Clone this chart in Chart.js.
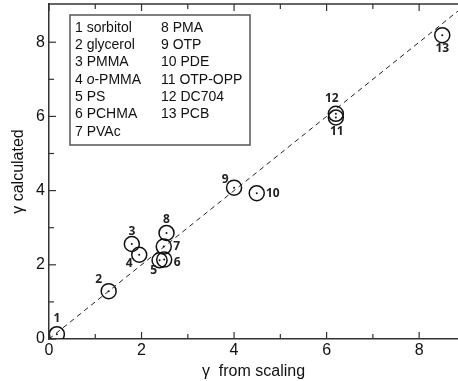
<!DOCTYPE html>
<html>
<head>
<meta charset="utf-8">
<script src="https://cdn.jsdelivr.net/npm/chart.js@4.4.1/dist/chart.umd.min.js"></script>
<style>
  html, body { margin: 0; padding: 0; background: #fff; }
  #wrap { width: 458px; height: 381px; }
</style>
</head>
<body>
<div id="wrap"><canvas id="chart"></canvas></div>
<script>
// point numbers and values
const ids = ['1', '2', '3', '4', '5', '6', '7', '8', '9', '10', '11', '12', '13'];
const gammaScaling = [0.17, 1.29, 1.79, 1.95, 2.39, 2.49, 2.48, 2.54, 4.0, 4.49, 6.2, 6.2, 8.5];
const gammaCalc = [0.13, 1.29, 2.56, 2.27, 2.12, 2.14, 2.49, 2.86, 4.08, 3.93, 5.97, 6.07, 8.19];
const names = ['sorbitol', 'glycerol', 'PMMA', 'o-PMMA', 'PS', 'PCHMA', 'PVAc',
  'PMA', 'OTP', 'PDE', 'OTP-OPP', 'DC704', 'PCB'];
const xTicks = [0, 2, 4, 6, 8];
const yTicks = [0, 2, 4, 6, 8];

// where each number label sits relative to its circle (px)
const labelOffsets = [
  [0, -16], [-10, -12], [0, -12], [-10, 9], [-6, 10], [13, 3], [13, 0],
  [0, -13], [-9, -8], [16, 0], [1, 14], [-4, -15], [0, 13]
];

const points = gammaScaling.map((x, i) => ({ x, y: gammaCalc[i] }));

const frame = {
  id: 'frame',
  afterDraw(chart) {
    const { ctx, chartArea: a, scales: { x, y } } = chart;
    ctx.save();
    ctx.strokeStyle = '#333';
    ctx.lineWidth = 1.5;
    // top border
    ctx.beginPath();
    ctx.moveTo(a.left, a.top);
    ctx.lineTo(a.right, a.top);
    ctx.stroke();
    // inward ticks
    ctx.lineWidth = 1.2;
    for (let v = 0; v <= 8; v++) {
      const len = v % 2 === 0 ? 7 : 5;
      const px = x.getPixelForValue(v);
      ctx.beginPath();
      ctx.moveTo(px, a.bottom); ctx.lineTo(px, a.bottom - len);
      ctx.moveTo(px, a.top); ctx.lineTo(px, a.top + len);
      ctx.stroke();
      const py = y.getPixelForValue(v);
      ctx.beginPath();
      ctx.moveTo(a.left, py); ctx.lineTo(a.left + len, py);
      ctx.stroke();
    }
    // number labels
    ctx.fillStyle = '#222';
    ctx.font = 'bold 12px "Open Sans", sans-serif';
    ctx.textAlign = 'center';
    ctx.textBaseline = 'middle';
    points.forEach((p, i) => {
      const px = x.getPixelForValue(p.x) + labelOffsets[i][0];
      const py = y.getPixelForValue(p.y) + labelOffsets[i][1];
      ctx.fillText(ids[i], px, py);
    });
    // legend box
    const bx = a.left + 21, by = a.top + 11;
    ctx.strokeStyle = '#555';
    ctx.lineWidth = 1.5;
    ctx.strokeRect(bx, by, 180, 130);
    ctx.fillStyle = '#111';
    ctx.font = '14px "Liberation Sans", Arial, sans-serif';
    ctx.textAlign = 'left';
    names.forEach((n, i) => {
      const col = i < 7 ? 0 : 1;
      const row = i < 7 ? i : i - 7;
      const tx = bx + 5 + col * 86;
      const ty = by + 13 + row * 17.3;
      if (n.startsWith('o-')) {
        const pre = ids[i] + ' ';
        ctx.fillText(pre, tx, ty);
        let w = ctx.measureText(pre).width;
        ctx.font = 'italic 14px "Liberation Sans", Arial, sans-serif';
        ctx.fillText('o', tx + w, ty);
        w += ctx.measureText('o').width;
        ctx.font = '14px "Liberation Sans", Arial, sans-serif';
        ctx.fillText(n.slice(1), tx + w, ty);
      } else {
        ctx.fillText(ids[i] + ' ' + n, tx, ty);
      }
    });
    ctx.restore();
  }
};

new Chart(document.getElementById('chart'), {
  type: 'scatter',
  data: {
    datasets: [
      {
        type: 'line',
        data: [{ x: 0, y: 0 }, { x: 9.2, y: 9.2 }],
        borderColor: '#222',
        borderWidth: 1,
        borderDash: [5, 4],
        pointRadius: 0,
        fill: false
      },
      {
        data: points,
        pointStyle: 'circle',
        pointRadius: 7.5,
        borderColor: '#111',
        borderWidth: 1.5,
        backgroundColor: 'rgba(255,255,255,0)'
      },
      {
        data: points,
        pointStyle: 'circle',
        pointRadius: 1,
        borderWidth: 0,
        backgroundColor: '#111'
      }
    ]
  },
  options: {
    responsive: true,
    maintainAspectRatio: false,
    animation: false,
    layout: { autoPadding: false, padding: { top: 4, right: 0, left: 0, bottom: 0 } },
    plugins: { legend: { display: false }, tooltip: { enabled: false } },
    scales: {
      x: {
        type: 'linear',
        min: 0,
        max: 8.84,
        afterFit(s) { s.height = 42; s.paddingLeft = 0; s.paddingRight = 0; },
        afterBuildTicks(s) { s.ticks = xTicks.map(v => ({ value: v })); },
        grid: { display: false, drawTicks: false },
        border: { display: true, color: '#333', width: 1.5 },
        ticks: {
          color: '#111',
          padding: 2,
          font: { family: '"Liberation Sans", Arial, sans-serif', size: 16 }
        },
        title: {
          display: true,
          text: 'γ  from scaling',
          color: '#111',
          padding: { top: 0, bottom: 0 },
          font: { family: '"Liberation Sans", Arial, sans-serif', size: 16 }
        }
      },
      y: {
        type: 'linear',
        min: 0,
        max: 9.03,
        afterFit(s) { s.width = 49; s.paddingTop = 0; s.paddingBottom = 0; },
        afterBuildTicks(s) { s.ticks = yTicks.map(v => ({ value: v })); },
        grid: { display: false, drawTicks: false },
        border: { display: true, color: '#333', width: 1.5 },
        ticks: {
          color: '#111',
          padding: 4,
          font: { family: '"Liberation Sans", Arial, sans-serif', size: 16 }
        },
        title: {
          display: true,
          text: 'γ calculated',
          color: '#111',
          padding: { top: 9, bottom: 0 },
          font: { family: '"Liberation Sans", Arial, sans-serif', size: 16 }
        }
      }
    }
  },
  plugins: [frame]
});
</script>
</body>
</html>
